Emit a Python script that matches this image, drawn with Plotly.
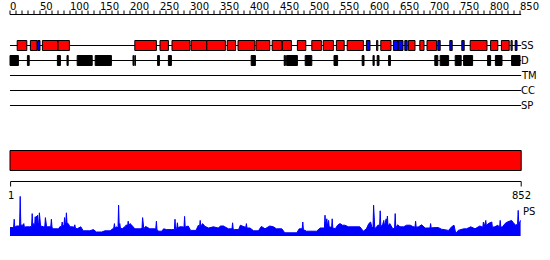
import plotly.graph_objects as go

# ---------------- data ----------------
seq_len = 852
axis_label_values = list(range(0, 851, 50))
axis_minor_values = list(range(0, 851, 10))
end_labels = ["1", "852"]
end_values = [1, 852]

# secondary structure (residue start, end)
helix_start = [12, 34, 54, 80, 208, 250, 270, 302, 328, 362, 380, 410, 437, 454, 479, 503,
               522, 544, 562, 611, 618, 664, 683, 695, 767, 801, 819, 835]
helix_end = [28, 45, 80, 99, 244, 264, 300, 328, 359, 376, 408, 433, 453, 469, 493, 519,
             539, 557, 589, 613, 635, 675, 690, 711, 795, 813, 832, 837]
strand_start = [46, 594, 639, 647, 658, 713, 733, 753, 842]
strand_end = [50, 600, 647, 655, 662, 717, 737, 757, 845]

# disorder
dis_start = [0, 29, 79, 95, 112, 142, 205, 208, 246, 264, 402, 457, 461, 492, 540, 587,
             605, 612, 631, 708, 717, 742, 756, 796, 809, 836]
dis_end = [14, 32, 84, 97, 137, 169, 206, 209, 249, 269, 409, 459, 479, 503, 546, 590,
           607, 615, 634, 713, 731, 752, 771, 801, 820, 850]

track_names = ["SS", "D", "TM", "CC", "SP"]

# PS profile (residue, score)
ps_pos = [0, 6, 7, 8, 11, 16, 17, 18, 21, 23, 24, 27, 33, 36, 37, 38, 39, 41, 42, 43, 44, 45,
          46, 47, 48, 49, 50, 51, 56, 58, 59, 60, 61, 67, 68, 69, 70, 72, 81, 83, 86, 87, 88,
          90, 91, 92, 93, 94, 95, 97, 100, 104, 107, 108, 109, 112, 118, 122, 133, 139, 144,
          153, 158, 167, 171, 173, 174, 175, 178, 180, 181, 182, 183, 184, 187, 192, 194, 196,
          197, 198, 200, 203, 208, 217, 220, 221, 222, 223, 226, 233, 242, 243, 244, 245, 248,
          253, 256, 261, 269, 272, 274, 275, 276, 278, 279, 280, 283, 287, 290, 291, 292, 293,
          297, 301, 310, 314, 316, 317, 318, 321, 325, 331, 339, 347, 351, 356, 358, 364, 370,
          371, 372, 374, 381, 384, 390, 393, 394, 395, 400, 406, 414, 419, 425, 433, 439, 444,
          453, 458, 478, 482, 487, 488, 489, 491, 494, 511, 517, 522, 524, 525, 526, 527, 528,
          529, 531, 532, 534, 536, 537, 538, 542, 546, 550, 554, 558, 564, 575, 583, 589, 594,
          598, 601, 603, 605, 606, 607, 608, 611, 614, 616, 617, 618, 621, 623, 624, 627, 628,
          629, 630, 633, 638, 641, 642, 643, 646, 650, 656, 661, 667, 671, 675, 676, 677, 681,
          686, 692, 697, 700, 701, 702, 706, 714, 719, 731, 736, 740, 743, 747, 756, 761, 768,
          775, 783, 788, 789, 790, 793, 794, 797, 803, 804, 808, 813, 816, 817, 818, 821, 825,
          829, 833, 836, 840, 843, 846, 847, 848, 850, 851]
ps_val = [0.21, 0.21, 0.42, 0.22, 0.25, 0.25, 0.99, 0.27, 0.27, 0.31, 0.22, 0.23, 0.23, 0.24,
          0.56, 0.26, 0.31, 0.25, 0.48, 0.30, 0.50, 0.30, 0.52, 0.30, 0.32, 0.58, 0.28, 0.25,
          0.23, 0.24, 0.46, 0.24, 0.23, 0.23, 0.25, 0.42, 0.22, 0.18, 0.18, 0.23, 0.24, 0.35,
          0.25, 0.28, 0.46, 0.30, 0.33, 0.58, 0.32, 0.31, 0.23, 0.23, 0.22, 0.28, 0.20, 0.18,
          0.23, 0.13, 0.13, 0.16, 0.10, 0.10, 0.13, 0.13, 0.18, 0.20, 0.31, 0.20, 0.23, 0.20,
          0.77, 0.25, 0.31, 0.20, 0.18, 0.24, 0.28, 0.25, 0.37, 0.26, 0.31, 0.27, 0.18, 0.18,
          0.19, 0.46, 0.19, 0.18, 0.24, 0.18, 0.18, 0.19, 0.37, 0.15, 0.12, 0.12, 0.18, 0.16,
          0.16, 0.15, 0.16, 0.42, 0.17, 0.20, 0.33, 0.20, 0.23, 0.23, 0.22, 0.49, 0.22, 0.23,
          0.25, 0.14, 0.14, 0.27, 0.24, 0.39, 0.24, 0.31, 0.24, 0.20, 0.23, 0.20, 0.25, 0.25,
          0.23, 0.18, 0.18, 0.33, 0.17, 0.16, 0.16, 0.27, 0.23, 0.22, 0.31, 0.20, 0.20, 0.13,
          0.13, 0.24, 0.18, 0.25, 0.23, 0.18, 0.18, 0.08, 0.08, 0.18, 0.18, 0.35, 0.16, 0.15,
          0.12, 0.12, 0.20, 0.20, 0.20, 0.52, 0.25, 0.30, 0.43, 0.25, 0.39, 0.22, 0.23, 0.20,
          0.43, 0.20, 0.18, 0.27, 0.31, 0.27, 0.27, 0.23, 0.23, 0.23, 0.12, 0.18, 0.31, 0.35,
          0.23, 0.20, 0.77, 0.20, 0.18, 0.23, 0.28, 0.24, 0.63, 0.24, 0.28, 0.39, 0.25, 0.43,
          0.28, 0.50, 0.25, 0.31, 0.18, 0.20, 0.56, 0.20, 0.28, 0.23, 0.23, 0.27, 0.27, 0.24,
          0.22, 0.37, 0.22, 0.23, 0.28, 0.20, 0.20, 0.20, 0.31, 0.20, 0.21, 0.21, 0.17, 0.14,
          0.23, 0.27, 0.06, 0.14, 0.18, 0.18, 0.23, 0.18, 0.25, 0.22, 0.35, 0.22, 0.39, 0.25,
          0.31, 0.35, 0.22, 0.23, 0.27, 0.22, 0.39, 0.22, 0.23, 0.31, 0.35, 0.37, 0.39, 0.31,
          0.27, 0.30, 0.64, 0.30, 0.39, 0.39]

# ---------------- layout constants (pixel rows) ----------------
W, H = 550, 260
X0_PX, PX_PER_RES = 10, 0.6
AXIS_Y = 14.5
TICK_TOP = 10.5
LABEL_Y = 6.5
TRACK_Y = [45.5, 60.5, 75.5, 90.5, 105.5]
SS_HALF = 5
D_HALF = 5
BAR_TOP, BAR_BOT = 150.5, 170.5
BAXIS_Y = 181.5
PS_BASE_PX, PS_TOP_PX = 236, 196
FONT = dict(family="DejaVu Sans", size=10, color="black")

xr = [-X0_PX / PX_PER_RES, (W - X0_PX) / PX_PER_RES]

fig = go.Figure()
shapes = []
annotations = []

# top axis
shapes.append(dict(type="line", xref="x", yref="y", x0=0, x1=seq_len, y0=AXIS_Y, y1=AXIS_Y,
                   line=dict(color="black", width=1)))
tx, ty = [], []
for t in axis_minor_values:
    tx += [t, t, None]
    ty += [TICK_TOP, AXIS_Y, None]
fig.add_trace(go.Scatter(x=tx, y=ty, mode="lines", line=dict(color="black", width=1),
                         hoverinfo="skip", showlegend=False))
for v in axis_label_values:
    annotations.append(dict(x=v, y=LABEL_Y, xref="x", yref="y", text=str(v), showarrow=False,
                            xanchor="left", yanchor="middle", xshift=-2, font=FONT))

# track lines + labels
for name, yy in zip(track_names, TRACK_Y):
    shapes.append(dict(type="line", xref="x", yref="y", x0=0, x1=seq_len, y0=yy, y1=yy,
                       line=dict(color="black", width=1), layer="below"))
    annotations.append(dict(x=seq_len, y=yy, xref="x", yref="y", text=name, showarrow=False,
                            xanchor="left", yanchor="middle", xshift=-2, font=FONT))

# SS boxes
for s, e in zip(helix_start, helix_end):
    shapes.append(dict(type="rect", xref="x", yref="y", x0=s, x1=e,
                       y0=TRACK_Y[0] - SS_HALF, y1=TRACK_Y[0] + SS_HALF,
                       fillcolor="#ff0000", line=dict(color="black", width=1)))
for s, e in zip(strand_start, strand_end):
    shapes.append(dict(type="rect", xref="x", yref="y", x0=s, x1=e,
                       y0=TRACK_Y[0] - SS_HALF, y1=TRACK_Y[0] + SS_HALF,
                       fillcolor="#0000ff", line=dict(color="black", width=1)))
# disorder boxes
for s, e in zip(dis_start, dis_end):
    shapes.append(dict(type="rect", xref="x", yref="y", x0=s, x1=e,
                       y0=TRACK_Y[1] - D_HALF, y1=TRACK_Y[1] + D_HALF,
                       fillcolor="black", line=dict(color="black", width=1)))

# full-length bar
shapes.append(dict(type="rect", xref="x", yref="y", x0=0, x1=seq_len, y0=BAR_TOP, y1=BAR_BOT,
                   fillcolor="#ff0000", line=dict(color="black", width=1)))

# bottom axis
shapes.append(dict(type="line", xref="x", yref="y", x0=end_values[0], x1=end_values[1],
                   y0=BAXIS_Y, y1=BAXIS_Y, line=dict(color="black", width=1)))
for v, lab in zip(end_values, end_labels):
    shapes.append(dict(type="line", xref="x", yref="y", x0=v, x1=v, y0=BAXIS_Y, y1=BAXIS_Y + 5,
                       line=dict(color="black", width=1)))
    annotations.append(dict(x=v, y=195, xref="x", yref="y", text=lab, showarrow=False,
                            xanchor="center", yanchor="middle", font=FONT))

# PS profile
fig.add_trace(go.Scatter(x=ps_pos, y=ps_val, yaxis="y2", mode="lines", fill="tozeroy",
                         fillcolor="#0000ff", line=dict(color="#0000ff", width=1),
                         hoverinfo="skip", showlegend=False))
annotations.append(dict(x=seq_len, y=211, xref="x", yref="y", text="PS", showarrow=False,
                        xanchor="left", yanchor="middle", font=FONT))

fig.update_layout(
    width=W, height=H, margin=dict(l=0, r=0, t=0, b=0),
    paper_bgcolor="white", plot_bgcolor="rgba(0,0,0,0)",
    xaxis=dict(range=xr, visible=False, fixedrange=True),
    yaxis=dict(range=[H, 0], visible=False, fixedrange=True),
    yaxis2=dict(domain=[(H - PS_BASE_PX) / H, (H - PS_TOP_PX) / H], range=[0, 1],
                visible=False, anchor="x", fixedrange=True),
    shapes=shapes, annotations=annotations, showlegend=False,
)
fig.write_html("out.html")
